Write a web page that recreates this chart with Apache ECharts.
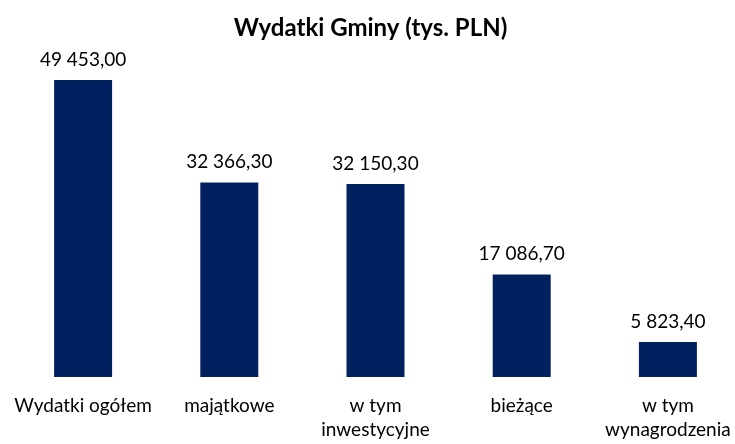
<!DOCTYPE html>
<html><head><meta charset="utf-8">
<script src="https://cdn.jsdelivr.net/npm/echarts@6/dist/echarts.min.js"></script>
<style>html,body{margin:0;padding:0;background:#fff;overflow:hidden}#c{width:741px;height:444px}</style>
</head><body><div id="c"></div>
<script>
const title = 'Wydatki Gminy (tys. PLN)';
const categories = ['Wydatki ogółem', 'majątkowe', 'w tym\ninwestycyjne', 'bieżące', 'w tym\nwynagrodzenia'];
const values = [49453.00, 32366.30, 32150.30, 17086.70, 5823.40];

function fmt(v) {
  const parts = v.toFixed(2).split('.');
  const intPart = parts[0].replace(/\B(?=(\d{3})+(?!\d))/g, ' ');
  return intPart + ',' + parts[1];
}

const chart = echarts.init(document.getElementById('c'), null, {renderer: 'canvas'});
chart.setOption({
  animation: false,
  backgroundColor: '#ffffff',
  title: {
    text: title, left: 'center', top: 11, padding: [5, 0, 5, 8],
    textStyle: {fontFamily: 'Lato', fontWeight: 'bold', fontSize: 24, color: '#000'}
  },
  grid: {left: 10, right: 0, top: 80, bottom: 67, containLabel: false},
  xAxis: {
    type: 'category', data: categories,
    axisLine: {show: false}, axisTick: {show: false},
    axisLabel: {fontFamily: 'Lato', fontSize: 19, color: '#000', margin: 17, lineHeight: 24, interval: 0}
  },
  yAxis: {
    type: 'value', min: 0, max: 49453, show: false, splitLine: {show: false}
  },
  series: [{
    type: 'bar', data: values, barWidth: 58,
    itemStyle: {color: '#002060'},
    label: {show: true, position: 'top', distance: 11, formatter: p => fmt(p.value),
      fontFamily: 'Lato', fontSize: 19, color: '#000'}
  }]
});
</script></body></html>
